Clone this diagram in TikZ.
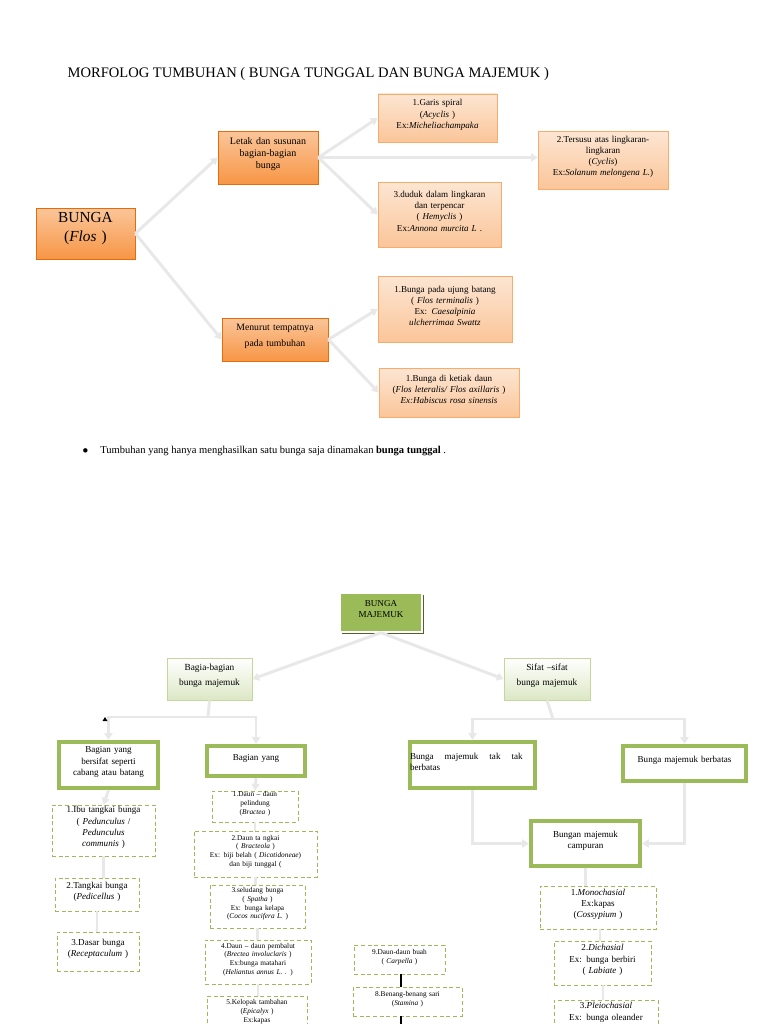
\documentclass[tikz,border=0pt]{standalone}
\usepackage{fontspec}
\setmainfont{Liberation Serif}
\usetikzlibrary{fit,shadows,arrows.meta}
\definecolor{og}{HTML}{F79646}
\definecolor{ogl}{HTML}{FBD5B5}
\definecolor{ogd}{HTML}{E46C0A}
\definecolor{gr}{HTML}{9BBB59}
\definecolor{grd}{HTML}{4F6228}
\definecolor{ln}{HTML}{E8E8E8}
\begin{document}
\begin{tikzpicture}[x=0.75pt,y=-0.75pt,
  box/.style={fit={#1},inner sep=0pt,align=center},
  orng/.style={top color=og!55,bottom color=og,draw=ogd,line width=0.6pt,drop shadow={shadow xshift=1pt,shadow yshift=-1pt,fill=ogd!70,opacity=1}},
  pch/.style={top color=ogl!60,bottom color=og!55,draw=og!80,line width=0.5pt,drop shadow={shadow xshift=1pt,shadow yshift=-1pt,fill=ogd!70,opacity=1}},
  grn/.style={fill=gr,draw=white,line width=1pt,drop shadow={shadow xshift=1.5pt,shadow yshift=-1.5pt,fill=grd,opacity=1}},
  grl/.style={top color=white,bottom color=gr!35,draw=gr!60,line width=0.6pt,drop shadow={shadow xshift=1pt,shadow yshift=-1pt,fill=grd!80,opacity=1}},
  thk/.style={fill=white,draw=gr,line width=3.2pt},
  dsh/.style={draw=gr,line width=0.6pt,dash pattern=on 3pt off 2pt},
  conn/.style={draw=ln,line width=2.2pt,-{Triangle[length=5pt,width=6pt]}},
  cl/.style={draw=ln,line width=2.2pt},
  t7/.style={font=\fontsize{7.5}{9}\selectfont},
  t6/.style={font=\fontsize{6.8}{8.3}\selectfont},
  t5/.style={font=\fontsize{5.5}{6.6}\selectfont}]
\useasboundingbox (0,0) rectangle (768,1024);
\fill[white] (0,0) rectangle (768,1024);
\coordinate (x401) at (401,0);
\coordinate (x600) at (600,0);
\coordinate (x603) at (603,0);
\node[anchor=west,font=\fontsize{10.9}{12}\selectfont] (title) at (63,74) {MORFOLOG TUMBUHAN ( BUNGA TUNGGAL DAN BUNGA MAJEMUK )};
% top section
\node[box={(36,208)(135,259)},orng,font=\fontsize{11.5}{14}\selectfont] (bunga) {BUNGA\\(\textit{Flos} )};
\node[box={(218,131)(318,184)},orng,t7] (letak) {Letak dan susunan\\bagian-bagian\\bunga};
\node[box={(222,318)(328,361)},orng,font=\fontsize{7.3}{11.5}\selectfont] (menurut) {Menurut tempatnya\\pada tumbuhan};
\node[box={(378,94)(497,142)},pch,t6] (garis) {1.Garis spiral\\(\textit{Acyclis} )\\Ex:\textit{Micheliachampaka}};
\node[box={(538,131)(668,189)},pch,t6] (tersusu) {2.Tersusu atas lingkaran-\\lingkaran\\(\textit{Cyclis})\\Ex:\textit{Solanum melongena L.})};
\node[box={(378,182)(501,247)},pch,t6] (duduk) {3.duduk dalam lingkaran\\dan terpencar\\( \textit{Hemyclis} )\\Ex:\textit{Annona murcita L} .};
\node[box={(378,276)(512,342)},pch,t6] (ujung) {1.Bunga pada ujung batang\\( \textit{Flos terminalis} )\\Ex: \textit{Caesalpinia}\\\textit{ulcherrimaa Swattz}};
\node[box={(379,368)(519,417)},pch,t6] (ketiak) {1.Bunga di ketiak daun\\(\textit{Flos leteralis/ Flos axillaris} )\\\textit{Ex:Habiscus rosa sinensis}};
\draw[conn] (bunga.east) -- (letak.west);
\draw[conn] (bunga.east) -- (menurut.west);
\draw[conn] (letak.east) -- (garis.west);
\draw[conn] (letak.east) -- (tersusu.west |- letak.east);
\draw[conn] (letak.east) -- (duduk.west);
\draw[conn] (menurut.east) -- (ujung.west);
\draw[conn] (menurut.east) -- (ketiak.west);
\node[font=\fontsize{7.9}{9}\selectfont,anchor=west] (bullet) at (78,451) {$\bullet$\hspace{9pt}Tumbuhan yang hanya menghasilkan satu bunga saja dinamakan \textbf{bunga tunggal} .};
% bottom section
\node[box={(340,593)(422,632)},grn,t6] (majemuk) {BUNGA\\MAJEMUK};
\node[box={(167,658)(252,700)},grl,font=\fontsize{7}{11}\selectfont] (bagia) {Bagia-bagian\\bunga majemuk};
\node[box={(504,658)(590,700)},grl,font=\fontsize{7}{11}\selectfont] (sifat) {Sifat --sifat\\bunga majemuk};
\draw[conn] (majemuk.south) -- (bagia.east);
\draw[conn] (majemuk.south) -- (sifat.west);
\node[box={(59,742)(158,788)},thk,t6] (cabang) {Bagian yang\\bersifat seperti\\cabang atau batang};
\node[box={(207,746)(305,776)},thk,t6] (bagian2) {Bagian yang\\[6pt]};
\coordinate (b1) at (208,717);
\draw[cl] (bagia.south) -- (b1);
\draw[conn] (b1) -| (cabang.north);
\draw[conn] (b1) -| (bagian2.north);
\fill (105,717) -- (102.5,721) -- (107.5,721) -- cycle;
\node[box={(410,742)(535,788)},thk,t6,align=left] (tak) {Bunga\hspace{6pt} majemuk\hspace{6pt} tak\hspace{6pt} tak\\berbatas\\[5pt]};
\node[box={(623,746)(746,781)},thk,t6] (berbatas) {Bunga majemuk berbatas\\[4pt]};
\coordinate (s1) at (553,719);
\draw[cl] (sifat.south) -- (s1);
\draw[conn] (s1) -| (tak.north);
\draw[conn] (s1) -| (berbatas.north);
\node[box={(531,821)(640,866)},thk,t6] (campuran) {Bungan majemuk\\campuran\\[5pt]};
\draw[conn] (tak.south) |- (campuran.west);
\draw[conn] (berbatas.south) |- (campuran.east);
% left dashed
\node[box={(52,805)(155,856)},dsh,t6] (ibu) {1.Ibu tangkai bunga\\( \textit{Pedunculus} /\\\textit{Pedunculus}\\\textit{communis} )};
\node[box={(55,878)(139,911)},dsh,t6] (tangkai) {2.Tangkai bunga\\(\textit{Pedicellus} )};
\node[box={(57,932)(139,971)},dsh,t6] (dasar) {3.Dasar bunga\\(\textit{Receptaculum} )};
\draw[conn] (cabang.south) -- (ibu.north);
\draw[cl] (ibu.south) -- (ibu.south |- tangkai.north);
\draw[cl] (tangkai.south) -- (tangkai.south |- dasar.north);
% middle dashed
\node[box={(212,791)(298,822)},dsh,t5] (d1) {1.Daun -- daun\\pelindung\\(\textit{Bractea} )};
\node[box={(194,831)(317,877)},dsh,t5] (d2) {2.Daun ta ngkai\\( \textit{Bracteola} )\\Ex: biji belah ( \textit{Dicotidoneae})\\dan biji tunggal (};
\node[box={(210,885)(305,928)},dsh,t5] (d3) {3.seludang bunga\\( \textit{Spatha} )\\Ex: bunga kelapa\\(\textit{Cocos nucifera L.} )};
\node[box={(205,940)(311,984)},dsh,t5] (d4) {4.Daun -- daun pembalut\\(\textit{Brectea involuclaris} )\\Ex:bunga matahari\\(\textit{Heliantus annus L.} . )};
\node[box={(207,996)(307,1040)},dsh,t5] (d5) {5.Kelopak tambahan\\(\textit{Epicalyx} )\\Ex:kapas\\~};
\draw[conn] (bagian2.south) -- (d1.north);
\draw[cl] (d1.south) -- (d1.south |- d2.north);
\draw[cl] (d2.south) -- (d2.south |- d3.north);
\draw[cl] (d3.south) -- (d3.south |- d4.north);
\draw[cl] (d4.south) -- (d4.south |- d5.north);
\node[box={(354,945)(445,974)},dsh,t5] (d9) {9.Daun-daun buah\\( \textit{Carpella} )};
\node[box={(353,987)(462,1016)},dsh,t5] (d8) {8.Benang-benang sari\\(\textit{Stamina} )};
\coordinate (d8b) at (401,1024);
\draw[line width=0.8pt] (d9.south -| x401) -- (d8.north -| x401);
\draw[line width=0.8pt] (d8.south -| x401) -- (d8b);
% right dashed
\node[box={(540,886)(656,929)},dsh,t6] (m1) {1.\textit{Monochasial}\\Ex:kapas\\(\textit{Cossypium} )};
\node[box={(554,941)(651,985)},dsh,t6] (m2) {2.\textit{Dichasial}\\Ex: bunga berbiri\\( \textit{Labiate} )};
\node[box={(554,1000)(658,1040)},dsh,t6] (m3) {3.\textit{Pleiochasial}\\Ex: bunga oleander\\~};
\draw[cl] (campuran.south) -- (campuran.south |- m1.north);
\draw[cl] (m1.south -| x600) -- (m2.north -| x600);
\draw[cl] (m2.south -| x603) -- (m3.north -| x603);
\end{tikzpicture}
\end{document}
